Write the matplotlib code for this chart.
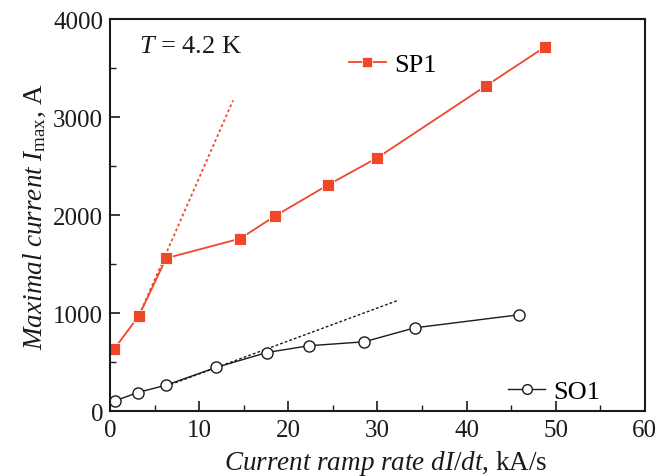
import matplotlib
matplotlib.use("Agg")
import matplotlib.pyplot as plt
from matplotlib.lines import Line2D
from matplotlib.ticker import MultipleLocator

plt.rcParams["font.family"] = ["Liberation Serif", "DejaVu Serif"]
plt.rcParams["mathtext.fontset"] = "custom"
plt.rcParams["mathtext.rm"] = "Liberation Serif"
plt.rcParams["mathtext.it"] = "Liberation Serif:italic"

RED = "#f0462a"
DARK = "#1a1a1a"

# SP1 sample
sp1_x = [0.45, 3.25, 6.3, 14.6, 18.5, 24.4, 30.0, 42.2, 48.8]
sp1_y = [632, 975, 1560, 1760, 1990, 2305, 2585, 3320, 3715]
# SO1 sample
so1_x = [0.56, 3.1, 6.3, 11.9, 17.6, 22.3, 28.5, 34.2, 45.9]
so1_y = [105, 190, 265, 446, 598, 667, 707, 850, 983]
# linear-slope guides (dotted)
sp1_fit_x = [3.0, 13.8]
sp1_fit_y = [925, 3170]
so1_fit_x = [6.3, 32.4]
so1_fit_y = [255, 1133]

fig = plt.figure(figsize=(6.71, 4.77), dpi=100)
ax = fig.add_axes([0.164, 0.136, 0.797, 0.822])

ax.plot(sp1_fit_x, sp1_fit_y, ls=(0, (1.5, 1.5)), color=RED, lw=1.3)
ax.plot(so1_fit_x, so1_fit_y, ls=(0, (2, 1.5)), color=DARK, lw=1.0)
ax.plot(sp1_x, sp1_y, color=RED, lw=1.3, marker="s", ms=8.5, mfc=RED, mec="white", mew=0.6)
ax.plot(so1_x, so1_y, color=DARK, lw=1.0, marker="o", ms=8, mfc="white", mec=DARK, mew=1.0)

ax.set_xlim(0, 60)
ax.set_ylim(0, 4000)
ax.xaxis.set_major_locator(MultipleLocator(10))
ax.xaxis.set_minor_locator(MultipleLocator(5))
ax.yaxis.set_major_locator(MultipleLocator(1000))
ax.yaxis.set_minor_locator(MultipleLocator(500))
ax.tick_params(which="both", direction="in", top=False, right=False, labelsize=18, colors=DARK)
ax.tick_params(axis="x", pad=6)
ax.tick_params(axis="y", pad=5)
ax.tick_params(which="major", length=7, width=1.2)
ax.tick_params(which="minor", length=4.5, width=1.0)
for s in ax.spines.values():
    s.set_linewidth(1.5)
    s.set_color(DARK)

ax.set_xlabel(r"$Current\ ramp\ rate\ dI/dt$, kA/s", fontsize=19.5, labelpad=1, color=DARK)
ax.xaxis.set_label_coords(0.515, -0.095)
ax.set_ylabel(r"$Maximal\ current\ I_{\mathrm{max}}$, A", fontsize=19.5, labelpad=4, color=DARK)

ax.text(0.055, 0.93, r"$T$ = 4.2 K", transform=ax.transAxes, fontsize=19, va="center", color=DARK)

h1 = Line2D([], [], color=RED, lw=1.3, marker="s", ms=7, mfc=RED, mec="white", mew=0.5)
h2 = Line2D([], [], color=DARK, lw=1.0, marker="o", ms=7, mfc="white", mec=DARK)
leg1 = ax.legend([h1], ["SP1"], loc="center left", bbox_to_anchor=(0.44 - 0.018, 0.885), frameon=False,
                 fontsize=19, handlelength=1.4, handletextpad=0.3, borderpad=0)
ax.add_artist(leg1)
ax.legend([h2], ["SO1"], loc="center left", bbox_to_anchor=(0.72, 0.05), frameon=False,
          fontsize=19, handlelength=1.4, handletextpad=0.3, borderpad=0)

fig.savefig("out.png", dpi=100)
